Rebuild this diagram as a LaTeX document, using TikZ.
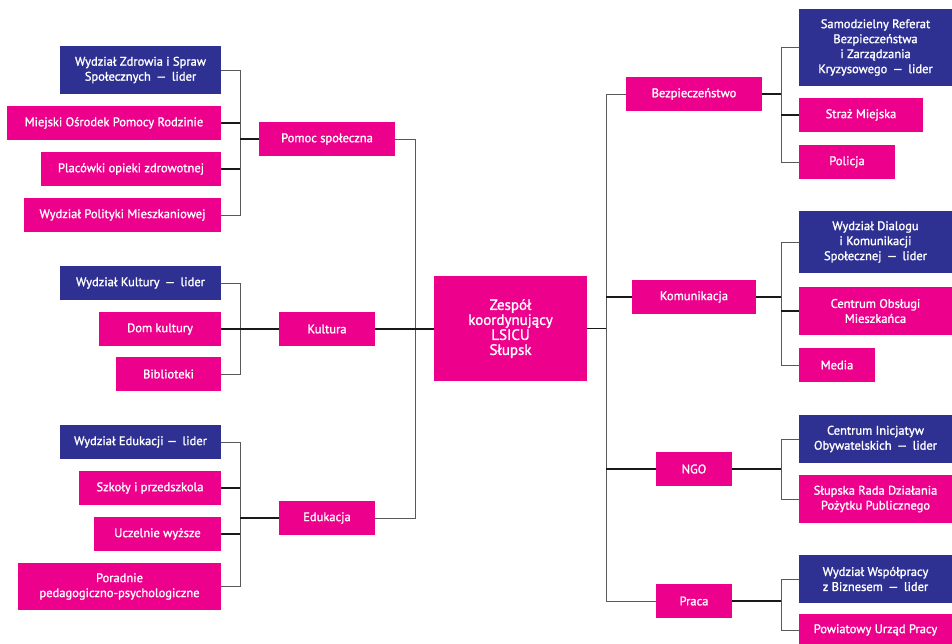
\documentclass[tikz,border=0pt]{standalone}
\usepackage{fontspec}
\setmainfont{PT Sans}
\newfontfamily\boxfont[FakeBold=1.4,Ligatures=TeX]{PT Sans}
\usepackage{xcolor}
\usepackage{tikz}
\usetikzlibrary{positioning,calc}

\definecolor{magenta}{HTML}{EC008C}
\definecolor{granat}{HTML}{2E3192}

\begin{document}
\begin{tikzpicture}[
    x=1pt,
    y=-1pt,
    box/.style={
        rectangle,
        fill=magenta,
        text=white,
        inner sep=0pt,
        align=center,
        font=\boxfont\fontsize{12.5}{15}\selectfont
      },
    lider/.style={box,fill=granat},
    sz/.style 2 args={minimum width=#1pt,minimum height=#2pt},
    bracket/.style={draw=black!65,line width=1pt},
    stub/.style={draw=black!90,line width=1.6pt}
    ]

    \useasboundingbox (0,0) rectangle (952,643);

    \node[box,sz={153}{105},font=\boxfont\fontsize{15}{15}\selectfont] (zespol) at (510.5,328.5) {Zespół\\koordynujący\\LSICU\\Słupsk};

    \node[box,sz={136}{34}] (pomoc) at (327,139) {Pomoc społeczna};
    \node[box,sz={96}{34}] (kultura) at (327,329) {Kultura};
    \node[box,sz={96}{34}] (eduk) at (327,518) {Edukacja};

    \node[lider,sz={161}{48}] (zdrowie) at (140.5,70) {Wydział Zdrowia i Spraw\\Społecznych \,—\, lider};
    \node[box,sz={214}{34}] (mopr) at (114,123) {Miejski Ośrodek Pomocy Rodzinie};
    \node[box,sz={180}{34}] (placowki) at (131,169) {Placówki opieki zdrowotnej};
    \node[box,sz={197}{34}] (polityka) at (122.5,215) {Wydział Polityki Mieszkaniowej};

    \node[lider,sz={161}{34}] (wkultury) at (140.5,283) {Wydział Kultury \,—\, lider};
    \node[box,sz={122}{34}] (dom) at (160,329) {Dom kultury};
    \node[box,sz={105}{34}] (biblioteki) at (168.5,374) {Biblioteki};

    \node[lider,sz={161}{34}] (wedukacji) at (140.5,442) {Wydział Edukacji —\, lider};
    \node[box,sz={142}{34}] (szkoly) at (150,488) {Szkoły i przedszkola};
    \node[box,sz={127}{34}] (uczelnie) at (157.5,534) {Uczelnie wyższe};
    \node[box,sz={203}{47}] (poradnie) at (119.5,586.5) {Poradnie\\pedagogiczno-psychologiczne};

    \node[box,sz={136}{34}] (bezp) at (694,94) {Bezpieczeństwo};
    \node[box,sz={124}{34}] (komunik) at (694,297) {Komunikacja};
    \node[box,sz={76}{34}] (ngo) at (694,469) {NGO};
    \node[box,sz={76}{34}] (praca) at (694,601) {Praca};

    \node[lider,sz={153}{77}] (referat) at (875.5,47.5) {Samodzielny Referat\\Bezpieczeństwa\\i Zarządzania\\Kryzysowego \,—\, lider};
    \node[box,sz={124}{34}] (straz) at (861,115) {Straż Miejska};
    \node[box,sz={96}{34}] (policja) at (847,162) {Policja};

    \node[lider,sz={153}{62}] (dialog) at (875.5,242) {Wydział Dialogu\\i Komunikacji\\Społecznej \,—\, lider};
    \node[box,sz={153}{48}] (cob) at (875.5,311) {Centrum Obsługi\\Mieszkańca};
    \node[box,sz={76}{34}] (media) at (837,365) {Media};

    \node[lider,sz={153}{48}] (cio) at (875.5,439) {Centrum Inicjatyw\\Obywatelskich \,—\, lider};
    \node[box,sz={153}{48}] (rada) at (875.5,499) {Słupska Rada Działania\\Pożytku Publicznego};

    \node[lider,sz={153}{48}] (wspolpraca) at (875.5,579) {Wydział Współpracy\\z Biznesem \,—\, lider};
    \node[box,sz={153}{32}] (pup) at (875.5,630) {Powiatowy Urząd Pracy};

    \coordinate (lbus) at (240,0);
    \coordinate (ltrunk) at (415,0);
    \coordinate (rtrunk) at (606,0);
    \coordinate (rbus) at (781,0);

    % lewa strona
    \draw[bracket] (zdrowie.east) -| (lbus |- polityka.east) -- (polityka.east);
    \draw[stub] (mopr.east) -- (mopr.east -| lbus);
    \draw[stub] (placowki.east) -- (placowki.east -| lbus);
    \draw[stub] (pomoc.west) -- (pomoc.west -| lbus);

    \draw[bracket] (wkultury.east) -| (lbus |- biblioteki.east) -- (biblioteki.east);
    \draw[stub] (dom.east) -- (kultura.west);

    \draw[bracket] (wedukacji.east) -| (lbus |- poradnie.east) -- (poradnie.east);
    \draw[stub] (szkoly.east) -- (szkoly.east -| lbus);
    \draw[stub] (uczelnie.east) -- (uczelnie.east -| lbus);
    \draw[stub] (eduk.west) -- (eduk.west -| lbus);

    \draw[bracket] (pomoc.east) -| (ltrunk |- eduk.east) -- (eduk.east);
    \draw[stub] (kultura.east) -- (kultura.east -| zespol.west);

    % prawa strona
    \draw[bracket] (bezp.west) -| (rtrunk |- praca.west) -- (praca.west);
    \draw[stub] (zespol.east) -- (zespol.east -| rtrunk);
    \draw[stub] (komunik.west) -- (komunik.west -| rtrunk);
    \draw[stub] (ngo.west) -- (ngo.west -| rtrunk);

    \draw[bracket] (referat.west) -| (rbus |- policja.west) -- (policja.west);
    \draw[stub] (straz.west) -- (straz.west -| rbus);
    \draw[stub] (bezp.east) -- (bezp.east -| rbus);

    \draw[bracket] (dialog.west) -| (rbus |- media.west) -- (media.west);
    \draw[stub] (cob.west) -- (cob.west -| rbus);
    \draw[stub] (komunik.east) -- (komunik.east -| rbus);

    \draw[bracket] (cio.west) -| (rbus |- rada.west) -- (rada.west);
    \draw[stub] (ngo.east) -- (ngo.east -| rbus);

    \draw[bracket] (wspolpraca.west) -| (rbus |- pup.west) -- (pup.west);
    \draw[stub] (praca.east) -- (praca.east -| rbus);

  \end{tikzpicture}
\end{document}
